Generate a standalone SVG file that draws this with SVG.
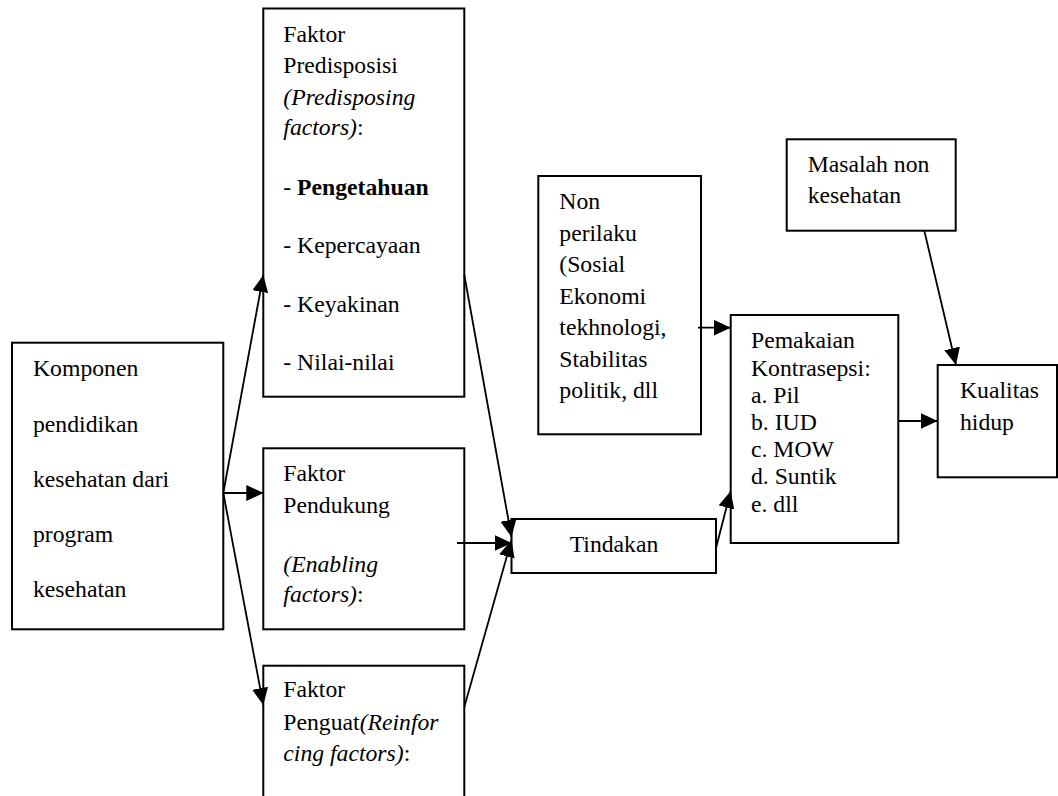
<svg xmlns="http://www.w3.org/2000/svg" width="1058" height="796" viewBox="0 0 1058 796">
  <style>
    .box { fill: #ffffff; stroke: #000000; stroke-width: 2; }
    .t { font-family: "Liberation Serif", "Times New Roman", serif; font-size: 23.7px; fill: #000000; }
    .i { font-style: italic; }
    .b { font-weight: bold; }
    .c { fill: none; stroke: #000000; stroke-width: 1.8; }
  </style>
  <defs>
    <marker id="ah" markerUnits="userSpaceOnUse" markerWidth="17" markerHeight="16" refX="17" refY="8" orient="auto">
      <path d="M0,0 L17,8 L0,16 Z" fill="#000000"/>
    </marker>
  </defs>
  <rect x="0" y="0" width="1058" height="796" fill="#ffffff"/>

  <g id="komponen">
    <rect class="box" x="12" y="342.7" width="211.3" height="286.6"/>
    <text class="t" x="33" y="376">Komponen</text>
    <text class="t" x="33" y="431.5">pendidikan</text>
    <text class="t" x="33" y="486.5">kesehatan dari</text>
    <text class="t" x="33" y="541.5">program</text>
    <text class="t" x="33" y="596.5">kesehatan</text>
  </g>

  <g id="predisposisi">
    <rect class="box" x="263.3" y="8.5" width="201" height="388.2"/>
    <text class="t" x="283.3" y="41.7">Faktor</text>
    <text class="t" x="283.3" y="73.3">Predisposisi</text>
    <text class="t i" x="283.3" y="105">(Predisposing</text>
    <text class="t" x="283.3" y="135"><tspan class="i">factors)</tspan>:</text>
    <text class="t" x="283.3" y="195">- <tspan class="b">Pengetahuan</tspan></text>
    <text class="t" x="283.3" y="253.3">- Kepercayaan</text>
    <text class="t" x="283.3" y="311.7">- Keyakinan</text>
    <text class="t" x="283.3" y="370">- Nilai-nilai</text>
  </g>

  <g id="pendukung">
    <rect class="box" x="263.3" y="448.3" width="201" height="181"/>
    <text class="t" x="283.3" y="480.7">Faktor</text>
    <text class="t" x="283.3" y="513.3">Pendukung</text>
    <text class="t i" x="283.3" y="571.7">(Enabling</text>
    <text class="t" x="283.3" y="601.7"><tspan class="i">factors)</tspan>:</text>
  </g>

  <g id="penguat">
    <rect class="box" x="263.3" y="665.7" width="201" height="150"/>
    <text class="t" x="283.3" y="697.3">Faktor</text>
    <text class="t" x="283.3" y="730">Penguat<tspan class="i">(Reinfor</tspan></text>
    <text class="t" x="283.3" y="760.7"><tspan class="i">cing factors)</tspan>:</text>
  </g>

  <g id="tindakan">
    <rect class="box" x="511.5" y="519" width="204.5" height="54"/>
    <text class="t" x="614" y="551.7" text-anchor="middle">Tindakan</text>
  </g>

  <g id="nonperilaku">
    <rect class="box" x="538.3" y="176" width="162.7" height="258.3"/>
    <text class="t" x="559.3" y="209.3">Non</text>
    <text class="t" x="559.3" y="240.7">perilaku</text>
    <text class="t" x="559.3" y="272.3">(Sosial</text>
    <text class="t" x="559.3" y="303.7">Ekonomi</text>
    <text class="t" x="559.3" y="335.2">tekhnologi,</text>
    <text class="t" x="559.3" y="366.8">Stabilitas</text>
    <text class="t" x="559.3" y="398.3">politik, dll</text>
  </g>

  <g id="masalah">
    <rect class="box" x="786.7" y="139.3" width="169" height="91.4"/>
    <text class="t" x="807.7" y="171.7">Masalah non</text>
    <text class="t" x="807.7" y="203.3">kesehatan</text>
  </g>

  <g id="pemakaian">
    <rect class="box" x="730.7" y="315" width="167.6" height="228"/>
    <text class="t" x="751" y="348.3">Pemakaian</text>
    <text class="t" x="751" y="375.5">Kontrasepsi:</text>
    <text class="t" x="751" y="402.7">a. Pil</text>
    <text class="t" x="751" y="429.9">b. IUD</text>
    <text class="t" x="751" y="457.1">c. MOW</text>
    <text class="t" x="751" y="484.3">d. Suntik</text>
    <text class="t" x="751" y="511.5">e. dll</text>
  </g>

  <g id="kualitas">
    <rect class="box" x="937.7" y="365" width="119.3" height="112.3"/>
    <text class="t" x="960" y="398">Kualitas</text>
    <text class="t" x="960" y="430">hidup</text>
  </g>

  <g id="connectors">
    <path class="c" d="M223.3,493 L263.3,275" marker-end="url(#ah)"/>
    <path class="c" d="M223.3,493 L263.3,493" marker-end="url(#ah)"/>
    <path class="c" d="M223.3,493 L263.3,705" marker-end="url(#ah)"/>
    <path class="c" d="M464.3,275 L511.5,537" marker-end="url(#ah)"/>
    <path class="c" d="M457,543 L511.5,543" marker-end="url(#ah)"/>
    <path class="c" d="M464.3,707 L511.5,540" marker-end="url(#ah)"/>
    <path class="c" d="M716,548 L730.7,491" marker-end="url(#ah)"/>
    <path class="c" d="M698,327.7 L730.7,327.7" marker-end="url(#ah)"/>
    <path class="c" d="M898.3,421 L937.7,421" marker-end="url(#ah)"/>
    <path class="c" d="M924.3,230.7 L956,365" marker-end="url(#ah)"/>
  </g>
</svg>
